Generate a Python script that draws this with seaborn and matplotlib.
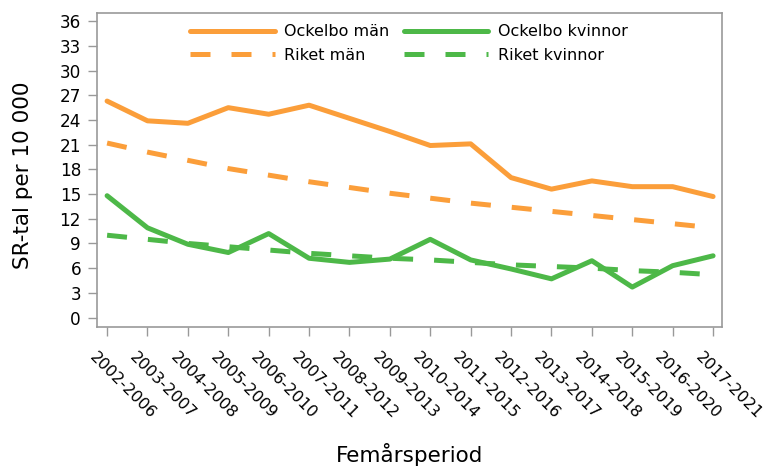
import matplotlib
matplotlib.use("Agg")
import matplotlib.pyplot as plt
import matplotlib.transforms as mtransforms
import numpy as np
import seaborn as sns

periods = ['2002-2006', '2003-2007', '2004-2008', '2005-2009', '2006-2010',
           '2007-2011', '2008-2012', '2009-2013', '2010-2014', '2011-2015',
           '2012-2016', '2013-2017', '2014-2018', '2015-2019', '2016-2020',
           '2017-2021']

ockelbo_man = [26.3, 23.9, 23.6, 25.5, 24.7, 25.8, 24.2, 22.6, 20.9, 21.1,
               17.0, 15.6, 16.6, 15.9, 15.9, 14.7]
riket_man = [21.2, 20.1, 19.1, 18.1, 17.3, 16.5, 15.8, 15.1, 14.5, 13.9,
             13.4, 12.9, 12.4, 11.9, 11.4, 10.9]
ockelbo_kvinnor = [14.8, 10.9, 8.9, 7.9, 10.2, 7.2, 6.7, 7.1, 9.5, 7.0,
                   5.9, 4.7, 6.9, 3.7, 6.3, 7.5]
riket_kvinnor = [10.0, 9.5, 9.0, 8.6, 8.2, 7.8, 7.5, 7.2, 7.0, 6.7,
                 6.4, 6.2, 6.0, 5.7, 5.5, 5.2]

orange = '#fb9e3a'
green = '#4db848'

sns.set_style("ticks")
plt.rcParams['font.family'] = ['DejaVu Sans']
plt.rcParams['text.color'] = 'black'
plt.rcParams['axes.labelcolor'] = 'black'

fig = plt.figure(figsize=(7.71, 4.68), dpi=100)
ax = fig.add_axes([0.1258, 0.3013, 0.8106, 0.6709])

x = np.arange(len(periods))
dash = (0, (4, 4.2))
lw = 3.6

sns.lineplot(x=x, y=ockelbo_man, ax=ax, color=orange, linewidth=lw,
             label='Ockelbo män')
sns.lineplot(x=x, y=riket_man, ax=ax, color=orange, linewidth=lw,
             linestyle=dash, label='Riket män')
sns.lineplot(x=x, y=ockelbo_kvinnor, ax=ax, color=green, linewidth=lw,
             label='Ockelbo kvinnor')
sns.lineplot(x=x, y=riket_kvinnor, ax=ax, color=green, linewidth=lw,
             linestyle=dash, label='Riket kvinnor')

ax.set_xlim(-0.25, 15.22)
ax.set_ylim(-1.15, 37.0)
ax.set_yticks(range(0, 37, 3))
ax.set_xticks(x)

for s in ax.spines.values():
    s.set_visible(True)
    s.set_color('#999999')
    s.set_linewidth(1.2)
ax.tick_params(axis='both', direction='out', length=6.5, width=1,
               color='#999999', labelcolor='black', labelsize=11.5, pad=5)
ax.tick_params(axis='y', labelsize=12.2)
ax.tick_params(axis='x', pad=10)

# rotated period labels, nudged left like the original
ax.set_xticklabels(periods, rotation=-45, ha='left', va='top',
                   rotation_mode='anchor')
shift = mtransforms.ScaledTranslation(-10 / 100, 0, fig.dpi_scale_trans)
for lab in ax.get_xticklabels():
    lab.set_transform(lab.get_transform() + shift)

ax.set_ylabel('SR-tal per 10 000', fontsize=15.5)
ax.yaxis.set_label_coords(-0.1024, 0.484)
ax.set_xlabel('Femårsperiod', fontsize=15.5, labelpad=15)

ax.legend(ncol=2, loc='upper center', bbox_to_anchor=(0.499, 1.01),
          frameon=False, fontsize=11.5, handlelength=5.3,
          columnspacing=0.9, handletextpad=0.6, labelspacing=0.55)

fig.savefig('out.png', dpi=100)
